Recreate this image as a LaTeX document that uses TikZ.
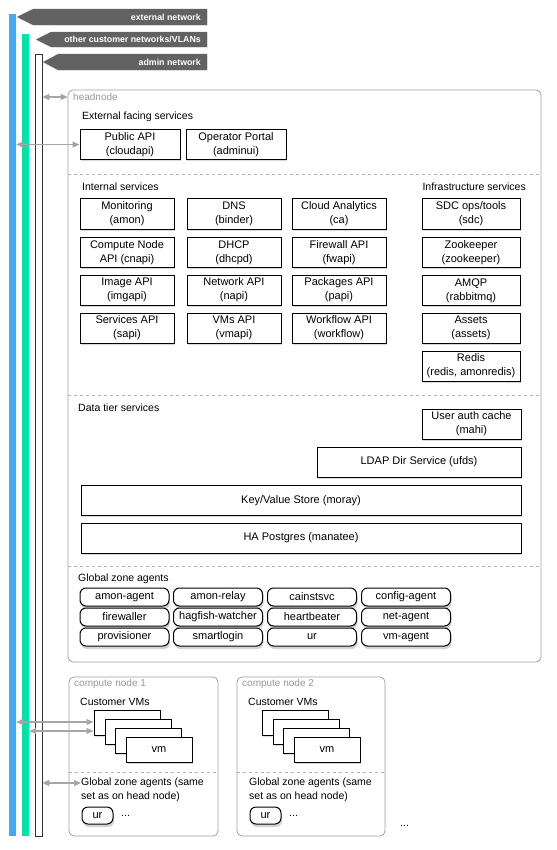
\documentclass[tikz,border=0pt]{standalone}
\usepackage{fontspec}
\setmainfont{Liberation Sans}
\usetikzlibrary{arrows.meta,shadows}
\definecolor{extblue}{RGB}{64,170,245}
\definecolor{custgreen}{RGB}{0,228,168}
\definecolor{bannergray}{RGB}{98,98,98}
\definecolor{linkgray}{RGB}{165,165,165}
\definecolor{framegray}{RGB}{160,160,160}
\definecolor{taggray}{RGB}{150,150,150}
\begin{document}
\begin{tikzpicture}[x=1pt, y=-1pt,
        every node/.style={font=\fontsize{10.5}{14}\selectfont},
        netbar/.style={minimum width=7pt, inner sep=0pt},
        banner/.style={fill=bannergray, drop shadow={shadow xshift=0.5pt, shadow yshift=-1pt, opacity=0.25}},
        bannertext/.style={text=white, font=\bfseries\fontsize{8.8}{10}\selectfont, anchor=east, inner sep=0pt},
        group/.style={draw=framegray, line width=0.8pt, rounded corners=5pt, inner sep=0pt},
        sep/.style={draw=framegray!80, dashed, line width=0.6pt},
        tag/.style={text=taggray, font=\fontsize{10}{12}\selectfont, anchor=west, inner sep=0pt},
        heading/.style={anchor=west, inner sep=0pt},
        svc/.style={draw, fill=white, line width=1pt, minimum width=94pt, minimum height=30pt, inner sep=1pt, align=center, font=\fontsize{11}{14}\selectfont, drop shadow={shadow xshift=1pt, shadow yshift=-1.5pt, opacity=0.3}},
        agent/.style={draw, fill=white, line width=1pt, rounded corners=6pt, minimum width=89pt, minimum height=18pt, inner sep=0pt, font=\fontsize{11}{13}\selectfont, drop shadow={shadow xshift=1pt, shadow yshift=-3pt, opacity=0.35}},
        vm/.style={draw, fill=white, line width=1pt, minimum width=66pt, minimum height=25pt, inner sep=0pt, font=\fontsize{11}{13}\selectfont, drop shadow={shadow xshift=1pt, shadow yshift=-2pt, opacity=0.3}},
        link/.style={{Triangle[length=7pt,width=6pt]}-{Triangle[length=7pt,width=6pt]}, draw=linkgray, line width=1.2pt}
    ]

        \useasboundingbox (0,0) rectangle (556,850);

        \node (extbar) [netbar, fill=extblue, minimum height=822pt] at (12.5,425) {};
        \node (custbar) [netbar, fill=custgreen, minimum height=802pt] at (25.5,435) {};
        \node (admbar) [netbar, fill=white, draw=black!80, line width=0.7pt, minimum height=782pt] at (38.5,445) {};

        \fill [banner] (17,17) -- (33,9) -- (207,9) -- (207,25) -- (33,25) -- cycle;
        \node (extname) [bannertext] at (201,17) {external network};
        \fill [banner] (36,39.5) -- (51,32) -- (207,32) -- (207,47) -- (51,47) -- cycle;
        \node (custname) [bannertext] at (201,39.5) {other customer networks/VLANs};
        \fill [banner] (43,62) -- (58,54) -- (207,54) -- (207,70) -- (58,70) -- cycle;
        \node (admname) [bannertext] at (201,62) {admin network};

        \node (headnode) [group, minimum width=473pt, minimum height=572pt] at (304.5,376) {};
        \node (headname) [tag] at (73,97) {headnode};

        \node (extlabel) [heading] at (82,117) {External facing services};
        \node (cloudapi) [svc, minimum width=100pt] at (130,144.5) {Public API\\(cloudapi)};
        \node (adminui) [svc, minimum width=100pt] at (236,144.5) {Operator Portal\\(adminui)};

        \draw [sep] (headnode.west |- 0,174) -- (headnode.east |- 0,174);

        \node (intlabel) [heading] at (82,187) {Internal services};
        \node (amon) [svc] at (127,214) {Monitoring\\(amon)};
        \node (binder) [svc] at (234,214) {DNS\\(binder)};
        \node (ca) [svc] at (339,214) {Cloud Analytics\\(ca)};
        \node (cnapi) [svc] at (127,252.5) {Compute Node\\API (cnapi)};
        \node (dhcpd) [svc] at (234,252.5) {DHCP\\(dhcpd)};
        \node (fwapi) [svc] at (339,252.5) {Firewall API\\(fwapi)};
        \node (imgapi) [svc] at (127,290) {Image API\\(imgapi)};
        \node (napi) [svc] at (234,290) {Network API\\(napi)};
        \node (papi) [svc] at (339,290) {Packages API\\(papi)};
        \node (sapi) [svc] at (127,328) {Services API\\(sapi)};
        \node (vmapi) [svc] at (234,328) {VMs API\\(vmapi)};
        \node (workflow) [svc] at (339,328) {Workflow API\\(workflow)};

        \node (infralabel) [heading, anchor=east] at (526,187) {Infrastructure services};
        \node (sdc) [svc, minimum width=98pt] at (471,214) {SDC ops/tools\\(sdc)};
        \node (zookeeper) [svc, minimum width=98pt] at (471,252.5) {Zookeeper\\(zookeeper)};
        \node (rabbitmq) [svc, minimum width=98pt] at (471,290.5) {AMQP\\(rabbitmq)};
        \node (assets) [svc, minimum width=98pt] at (471,328) {Assets\\(assets)};
        \node (redis) [svc, minimum width=98pt] at (471,366) {Redis\\(redis, amonredis)};

        \draw [sep] (headnode.west |- 0,395) -- (headnode.east |- 0,395);

        \node (datalabel) [heading] at (78,408) {Data tier services};
        \node (mahi) [svc, minimum width=99pt] at (471.5,424) {User auth cache\\(mahi)};
        \node (ufds) [svc, minimum width=204pt] at (419,462) {LDAP Dir Service (ufds)};
        \node (moray) [svc, minimum width=440pt] at (301,500.5) {Key/Value Store (moray)};
        \node (manatee) [svc, minimum width=440pt] at (301,538) {HA Postgres (manatee)};

        \draw [sep] (headnode.west |- 0,566) -- (headnode.east |- 0,566);

        \node (gzlabel) [heading] at (78,579) {Global zone agents};
        \node (amonagent) [agent] at (124.5,597) {amon-agent};
        \node (amonrelay) [agent] at (218,597) {amon-relay};
        \node (cainstsvc) [agent] at (312,597) {cainstsvc};
        \node (configagent) [agent] at (406,597) {config-agent};
        \node (firewaller) [agent] at (124.5,617) {firewaller};
        \node (hagfish) [agent] at (218,617) {hagfish-watcher};
        \node (heartbeater) [agent] at (312,617) {heartbeater};
        \node (netagent) [agent] at (406,617) {net-agent};
        \node (provisioner) [agent] at (124.5,637) {provisioner};
        \node (smartlogin) [agent] at (218,637) {smartlogin};
        \node (urhead) [agent] at (312,637) {ur};
        \node (vmagent) [agent] at (406,637) {vm-agent};

        \node (cnodea) [group, minimum width=149pt, minimum height=159pt] at (143.5,756.5) {};
        \node (cnodeaname) [tag] at (74,684) {compute node 1};
        \node (vmslabela) [heading] at (80,702) {Customer VMs};
        \node (vmaa) [vm] at (127,722.5) {};
        \node (vmab) [vm] at (138,731.5) {};
        \node (vmac) [vm] at (148,740.5) {};
        \node (vmad) [vm] at (159,749.5) {vm};
        \draw [sep] (cnodea.west |- 0,772) -- (cnodea.east |- 0,772);
        \node (gzlabela) [heading, anchor=north west, align=left] at (81,778) {Global zone agents (same\\set as on head node)};
        \node (ura) [agent, minimum width=31pt, minimum height=17pt] at (97.5,815.5) {ur};
        \node (morea) [heading] at (121,816) {...};

        \node (cnodeb) [group, minimum width=148pt, minimum height=159pt] at (311,756.5) {};
        \node (cnodebname) [tag] at (242,684) {compute node 2};
        \node (vmslabelb) [heading] at (248,702) {Customer VMs};
        \node (vmba) [vm] at (295,722.5) {};
        \node (vmbb) [vm] at (306,731.5) {};
        \node (vmbc) [vm] at (316,740.5) {};
        \node (vmbd) [vm] at (327,749.5) {vm};
        \draw [sep] (cnodeb.west |- 0,772) -- (cnodeb.east |- 0,772);
        \node (gzlabelb) [heading, anchor=north west, align=left] at (249,778) {Global zone agents (same\\set as on head node)};
        \node (urb) [agent, minimum width=31pt, minimum height=17pt] at (265.5,815.5) {ur};
        \node (moreb) [heading] at (289,816) {...};

        \node (morenodes) [heading] at (400,826) {...};

        \draw [link] (admbar.east |- headname) -- (headnode.west |- headname);
        \draw [link] (extbar.east |- cloudapi) -- (cloudapi.west);
        \draw [link] (extbar.east |- 0,722) -- (vmaa.west |- 0,722);
        \draw [link] (custbar.east |- 0,731) -- (vmaa.west |- 0,731);
        \draw [link] (admbar.east |- 0,783) -- (gzlabela.west |- 0,783);
    \end{tikzpicture}
\end{document}
